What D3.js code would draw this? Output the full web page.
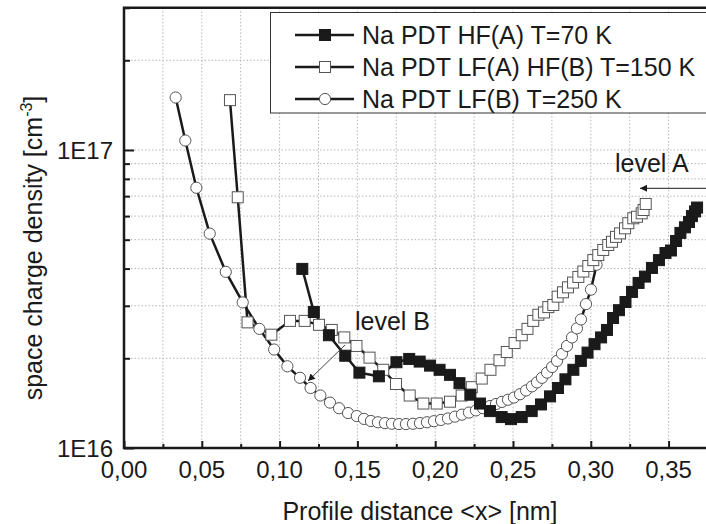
<!DOCTYPE html>
<html>
<head>
<meta charset="utf-8">
<script src="https://cdn.jsdelivr.net/npm/d3@7"></script>
<style>
  body { margin: 0; background: #fff; }
  svg { display: block; font-family: "Liberation Sans", Arial, sans-serif; }
  .grid line { stroke: #b5b5b5; stroke-width: 1; stroke-dasharray: 1.5,2; }
</style>
</head>
<body>
<script>
// series: profile distance <x> [nm] and space charge density [cm^-3]
var hfA_x = [0.1146,0.1220,0.1317,0.1422,0.1513,0.1638,0.1751,0.1833,0.1900,0.1967,0.2028,0.2095,0.2156,0.2226,0.2288,0.2352,
  0.2427,0.2487,0.2556,0.2620,0.2680,0.2738,0.2789,0.2837,0.2888,0.2936,0.2979,0.3024,0.3066,0.3104,0.3143,0.3181,0.3223,
  0.3265,0.3307,0.3348,0.3393,0.3438,0.3480,0.3515,0.3548,0.3576,0.3605,0.3631,0.3650,0.3670,0.3683];
var hfA_y = [3.99e16,2.86e16,2.39e16,2.04e16,1.79e16,1.74e16,1.94e16,1.99e16,1.95e16,1.89e16,1.83e16,1.76e16,1.65e16,1.51e16,
  1.41e16,1.33e16,1.27e16,1.25e16,1.27e16,1.33e16,1.40e16,1.49e16,1.59e16,1.70e16,1.83e16,1.96e16,2.09e16,2.23e16,2.35e16,
  2.49e16,2.73e16,2.90e16,3.09e16,3.34e16,3.58e16,3.76e16,4.02e16,4.27e16,4.51e16,4.60e16,4.95e16,5.27e16,5.50e16,5.73e16,
  6.00e16,6.22e16,6.41e16];

var lfA_x = [0.0681,0.0731,0.0794,0.0947,0.1067,0.1161,0.1253,0.1335,0.1416,0.1494,0.1578,0.1666,0.1748,0.1836,0.1924,0.2010,
  0.2095,0.2170,0.2235,0.2299,0.2355,0.2413,0.2460,0.2510,0.2556,0.2593,0.2630,0.2663,0.2699,0.2727,0.2759,0.2787,0.2821,
  0.2853,0.2886,0.2920,0.2952,0.2984,0.3016,0.3048,0.3080,0.3112,0.3136,0.3162,0.3188,0.3220,0.3241,0.3273,0.3297,0.3327,
  0.3339,0.3353];
var lfA_y = [1.47e17,6.94e16,2.64e16,2.40e16,2.67e16,2.67e16,2.59e16,2.49e16,2.35e16,2.20e16,2.01e16,1.83e16,1.64e16,1.50e16,
  1.41e16,1.41e16,1.43e16,1.50e16,1.60e16,1.71e16,1.83e16,1.97e16,2.10e16,2.25e16,2.39e16,2.51e16,2.67e16,2.80e16,2.85e16,
  2.97e16,3.02e16,3.22e16,3.33e16,3.46e16,3.59e16,3.75e16,3.91e16,4.08e16,4.27e16,4.44e16,4.62e16,4.80e16,4.92e16,5.11e16,
  5.25e16,5.46e16,5.68e16,5.90e16,5.97e16,6.13e16,6.29e16,6.59e16];

var lfB_x = [0.0332,0.0394,0.0465,0.0551,0.0654,0.0763,0.0870,0.0965,0.1050,0.1131,0.1199,0.1262,0.1324,0.1382,0.1440,0.1496,
  0.1542,0.1587,0.1632,0.1677,0.1722,0.1767,0.1812,0.1857,0.1902,0.1947,0.1992,0.2037,0.2082,0.2127,0.2172,0.2217,0.2262,
  0.2307,0.2352,0.2391,0.2429,0.2468,0.2506,0.2545,0.2584,0.2622,0.2654,0.2686,0.2719,0.2751,0.2783,0.2815,0.2847,0.2879,
  0.2911,0.2937,0.2969,0.3001,0.3037];
var lfB_y = [1.50e17,1.076e17,7.47e16,5.24e16,3.90e16,3.08e16,2.51e16,2.14e16,1.88e16,1.72e16,1.59e16,1.50e16,1.42e16,1.36e16,
  1.31e16,1.28e16,1.252e16,1.232e16,1.220e16,1.212e16,1.206e16,1.203e16,1.203e16,1.206e16,1.212e16,1.220e16,1.230e16,1.242e16,
  1.256e16,1.274e16,1.294e16,1.315e16,1.337e16,1.360e16,1.383e16,1.405e16,1.428e16,1.452e16,1.477e16,1.515e16,1.560e16,1.610e16,
  1.660e16,1.720e16,1.790e16,1.870e16,1.960e16,2.070e16,2.200e16,2.350e16,2.520e16,2.700e16,3.040e16,3.400e16,4.120e16];

var seriesNames = ["Na PDT HF(A) T=70 K", "Na PDT LF(A) HF(B) T=150 K", "Na PDT LF(B) T=250 K"];
var xTicks = [0.00,0.05,0.10,0.15,0.20,0.25,0.30,0.35];
var xMinor = [0.025,0.075,0.125,0.175,0.225,0.275,0.325,0.375];
var yGrid = [2e16,3e16,4e16,5e16,6e16,7e16,8e16,9e16,1e17,2e17,3e17];
var yLabels = [1e16,1e17];

var W = 706, H = 524;
var svg = d3.select("body").append("svg").attr("width", W).attr("height", H);

var x = d3.scaleLinear().domain([0, 0.375]).range([124, 707.5]);
var y = d3.scaleLog().domain([1e16, 3e17]).range([448, 7.8]);

function zip(xs, ys){ return xs.map(function(d, i){ return {x: d, y: ys[i]}; }); }
var series = [
  {name: seriesNames[0], data: zip(hfA_x, hfA_y), sym: "sq", fill: "#1a1a1a"},
  {name: seriesNames[1], data: zip(lfA_x, lfA_y), sym: "sq", fill: "#fff"},
  {name: seriesNames[2], data: zip(lfB_x, lfB_y), sym: "ci", fill: "#fff"}
];

// grid
var grid = svg.append("g").attr("class", "grid");
grid.selectAll(".vg").data(xMinor.concat(xTicks.slice(1))).enter().append("line")
  .attr("x1", function(d){ return x(d); }).attr("x2", function(d){ return x(d); })
  .attr("y1", y.range()[1]).attr("y2", y.range()[0]);
grid.selectAll(".hg").data(yGrid).enter().append("line")
  .attr("x1", x.range()[0]).attr("x2", W)
  .attr("y1", function(d){ return y(d); }).attr("y2", function(d){ return y(d); });

// axes (ticks pointing inward)
var xAxis = d3.axisTop(x).tickValues(xTicks).tickSize(7).tickFormat("");
var xAxisMinor = d3.axisTop(x).tickValues(xMinor).tickSize(4).tickFormat("");
var gx = svg.append("g").attr("transform", "translate(0," + y.range()[0] + ")");
gx.call(xAxis); gx.append("g").call(xAxisMinor);
gx.selectAll(".domain").remove();
gx.selectAll("line").attr("stroke", "#1a1a1a").attr("stroke-width", 2);

var yAxis = d3.axisRight(y).tickValues(yLabels).tickSize(10).tickFormat("");
var yAxisMinor = d3.axisRight(y).tickValues(yGrid.filter(function(d){ return d !== 1e17; })).tickSize(6).tickFormat("");
var gy = svg.append("g").attr("transform", "translate(" + x.range()[0] + ",0)");
gy.call(yAxis); gy.append("g").call(yAxisMinor);
gy.selectAll(".domain").remove();
gy.selectAll("line").attr("stroke", "#1a1a1a").attr("stroke-width", 2);

// frame
svg.append("path")
  .attr("d", "M" + W + "," + y.range()[1] + "H" + x.range()[0] + "V" + y.range()[0] + "H" + W)
  .attr("fill", "none").attr("stroke", "#1a1a1a").attr("stroke-width", 2.5);

// tick labels
svg.selectAll(".xl").data(xTicks).enter().append("text")
  .attr("x", function(d){ return x(d); }).attr("y", 478)
  .attr("text-anchor", "middle").attr("font-size", 24).attr("fill", "#1a1a1a")
  .text(function(d){ return d3.format(".2f")(d).replace(".", ","); });
svg.selectAll(".yl").data(yLabels).enter().append("text")
  .attr("x", 113).attr("y", function(d){ return y(d); }).attr("dy", "0.36em")
  .attr("text-anchor", "end").attr("font-size", 24).attr("fill", "#1a1a1a")
  .text(function(d){ return "1E" + Math.round(Math.log10(d)); });

// axis titles
svg.append("text").attr("x", 420).attr("y", 520).attr("text-anchor", "middle")
  .attr("font-size", 25).attr("fill", "#1a1a1a").text("Profile distance <x> [nm]");
var yt = svg.append("text").attr("transform", "translate(42,248) rotate(-90)")
  .attr("text-anchor", "middle").attr("font-size", 25).attr("fill", "#1a1a1a");
yt.append("tspan").text("space charge density [cm");
yt.append("tspan").attr("dy", -10).attr("font-size", 16).text("-3");
yt.append("tspan").attr("dy", 10).text("]");

// data lines
var line = d3.line().x(function(d){ return x(d.x); }).y(function(d){ return y(d.y); });
var plot = svg.append("g");
plot.selectAll(".ln").data(series).enter().append("path")
  .attr("d", function(s){ return line(s.data); })
  .attr("fill", "none").attr("stroke", "#1a1a1a").attr("stroke-width", 2.5);

function drawMarker(g, s, cx, cy){
  if (s.sym === "sq") {
    g.append("rect").attr("x", cx - 5.5).attr("y", cy - 5.5).attr("width", 11).attr("height", 11)
      .attr("fill", s.fill).attr("stroke", s.fill === "#fff" ? "#555" : "#1a1a1a").attr("stroke-width", 1);
  } else {
    g.append("circle").attr("cx", cx).attr("cy", cy).attr("r", 5.6)
      .attr("fill", s.fill).attr("stroke", "#555").attr("stroke-width", 1);
  }
}
[2, 1, 0].forEach(function(i){
  var s = series[i], g = plot.append("g");
  s.data.forEach(function(d){ drawMarker(g, s, x(d.x), y(d.y)); });
});

// annotations
svg.append("defs").append("marker").attr("id", "ah").attr("viewBox", "0 0 10 10")
  .attr("refX", 10).attr("refY", 5).attr("markerWidth", 9).attr("markerHeight", 7)
  .attr("markerUnits", "userSpaceOnUse").attr("orient", "auto")
  .append("path").attr("d", "M0,0L10,5L0,10z").attr("fill", "#1a1a1a");
svg.append("text").attr("x", 615).attr("y", 171.5).attr("font-size", 25).attr("fill", "#1a1a1a").text("level A");
svg.append("line").attr("x1", 706).attr("y1", 188.3).attr("x2", 640).attr("y2", 188.3)
  .attr("stroke", "#1a1a1a").attr("stroke-width", 1).attr("marker-end", "url(#ah)");
svg.append("text").attr("x", 355).attr("y", 330).attr("font-size", 25).attr("fill", "#1a1a1a").text("level B");
svg.append("line").attr("x1", 345).attr("y1", 345).attr("x2", 308).attr("y2", 381)
  .attr("stroke", "#444").attr("stroke-width", 1).attr("marker-end", "url(#ah)");

// legend
var lg = svg.append("g");
lg.append("rect").attr("x", 270.5).attr("y", 12.5).attr("width", 460).attr("height", 100.5)
  .attr("fill", "#fff").attr("stroke", "#333").attr("stroke-width", 1);
var rowY = [35, 67, 99];
series.forEach(function(s, i){
  var r = lg.append("g");
  r.append("line").attr("x1", 295).attr("x2", 354).attr("y1", rowY[i]).attr("y2", rowY[i])
    .attr("stroke", "#1a1a1a").attr("stroke-width", 2.5);
  drawMarker(r, s, 325, rowY[i]);
  r.append("text").attr("x", 362).attr("y", rowY[i]).attr("dy", "0.36em")
    .attr("font-size", 25).attr("fill", "#1a1a1a").text(s.name);
});
</script>
</body>
</html>
